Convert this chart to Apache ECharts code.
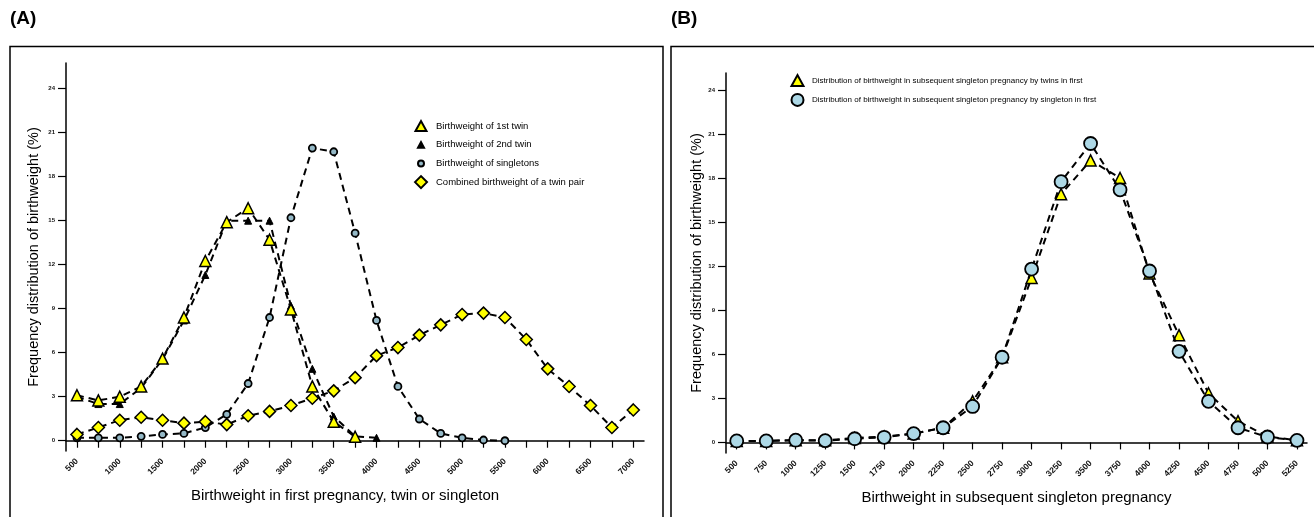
<!DOCTYPE html>
<html>
<head>
<meta charset="utf-8">
<script src="https://cdn.jsdelivr.net/npm/echarts@6/dist/echarts.min.js"></script>
<style>
html, body { margin: 0; padding: 0; background: #fff; }
#main { width: 1314px; height: 517px; }
</style>
</head>
<body>
<div id="main"></div>
<script>
// panel A : birthweight in first pregnancy
var firstTwinX   = [500,750,1000,1250,1500,1750,2000,2250,2500,2750,3000,3250,3500,3750];
var firstTwin    = [3.1,2.75,3.0,3.7,5.6,8.4,12.25,14.9,15.85,13.7,8.95,3.7,1.3,0.27];
var secondTwinX  = [500,750,1000,1250,1500,1750,2000,2250,2500,2750,3000,3250,3500,3750,4000];
var secondTwin   = [3.0,2.5,2.5,3.6,5.55,8.2,11.3,15.0,15.0,15.0,9.2,4.9,1.65,0.3,0.2];
var singletonX   = [500,750,1000,1250,1500,1750,2000,2250,2500,2750,3000,3250,3500,3750,4000,4250,4500,4750,5000,5250,5500];
var singleton    = [0.2,0.2,0.2,0.3,0.43,0.5,0.9,1.8,3.9,8.4,15.2,19.95,19.7,14.15,8.2,3.7,1.48,0.5,0.2,0.05,0.0];
var combinedX    = [500,750,1000,1250,1500,1750,2000,2250,2500,2750,3000,3250,3500,3750,4000,4250,4500,4750,5000,5250,5500,5750,6000,6250,6500,6750,7000];
var combined     = [0.43,0.9,1.4,1.6,1.4,1.2,1.3,1.1,1.7,2.0,2.4,2.9,3.4,4.3,5.8,6.35,7.2,7.9,8.6,8.7,8.4,6.9,4.9,3.7,2.4,0.9,2.1];

// panel B : birthweight in subsequent singleton pregnancy
var subsX        = [500,750,1000,1250,1500,1750,2000,2250,2500,2750,3000,3250,3500,3750,4000,4250,4500,4750,5000,5250];
var subsTwins    = [0.1,0.1,0.15,0.15,0.3,0.4,0.6,1.0,2.8,5.8,11.2,16.9,19.2,18.0,11.5,7.3,3.35,1.45,0.4,0.15];
var subsSingle   = [0.1,0.1,0.15,0.12,0.25,0.35,0.6,1.0,2.45,5.8,11.8,17.75,20.35,17.2,11.67,6.2,2.8,1.0,0.37,0.14];

// ticks
var xTicksA  = [500,750,1000,1250,1500,1750,2000,2250,2500,2750,3000,3250,3500,3750,4000,4250,4500,4750,5000,5250,5500,5750,6000,6250,6500,6750,7000];
var xLabelsA = [500,1000,1500,2000,2500,3000,3500,4000,4500,5000,5500,6000,6500,7000];
var xTicksB  = [500,750,1000,1250,1500,1750,2000,2250,2500,2750,3000,3250,3500,3750,4000,4250,4500,4750,5000,5250];
var yTicks   = [0,3,6,9,12,15,18,21,24];

var FONT = 'Liberation Sans, Arial, sans-serif';

function pairs(xs, ys) {
    var out = [];
    for (var i = 0; i < xs.length; i++) out.push([xs[i], ys[i]]);
    return out;
}

function plain(v) { return String(v); }

function xAxisOf(idx, min, max, ticks, labels, name, pad) {
    return {
        type: 'value', gridIndex: idx, min: min, max: max,
        name: name, nameLocation: 'middle', nameGap: 37,
        nameTextStyle: { fontSize: 15, color: '#000', fontFamily: FONT, padding: pad },
        axisLine: { show: true, lineStyle: { color: '#000', width: 1.5 } },
        axisTick: { show: true, length: 7, lineStyle: { color: '#000', width: 1.2 }, customValues: ticks },
        axisLabel: { rotate: 45, margin: 9, fontSize: 8.5, fontWeight: 'bold', color: '#111', fontFamily: FONT, customValues: labels, formatter: plain },
        splitLine: { show: false }
    };
}

function yAxisOf(idx, min, max, gap) {
    return {
        type: 'value', gridIndex: idx, min: min, max: max,
        name: 'Frequency distribution of birthweight (%)', nameLocation: 'middle', nameGap: gap,
        nameTextStyle: { fontSize: 14.5, color: '#000', fontFamily: FONT },
        axisLine: { show: true, lineStyle: { color: '#000', width: 1.5 } },
        axisTick: { show: true, length: 8, lineStyle: { color: '#000', width: 1.2 }, customValues: yTicks },
        axisLabel: { margin: 11, fontSize: 6, fontWeight: 'bold', color: '#111', fontFamily: FONT, customValues: yTicks, formatter: plain },
        splitLine: { show: false }
    };
}

var dash = { color: '#000', width: 2, type: [7, 5] };

function lineSeries(name, idx, data, symbol, size, fill, bw, z) {
    return {
        name: name, type: 'line', xAxisIndex: idx, yAxisIndex: idx,
        data: data, symbol: symbol, symbolSize: size, showAllSymbol: true,
        lineStyle: dash, z: z,
        itemStyle: { color: fill, borderColor: '#000', borderWidth: bw, opacity: 1 },
        emphasis: { disabled: true }, animation: false
    };
}

// legend icons padded inside a fixed box so that small marks stay small
var icBigTri   = 'path://M0,0M16,12M0.5,11L6,1L11.5,11Z';
var icSmallTri = 'path://M0,0M16,12M3,9L6,3.5L9,9Z';
var icSmallCir = 'path://M0,0M16,12M3,6A3,3,0,1,1,9,6A3,3,0,1,1,3,6Z';
var icDiamond  = 'path://M0,0M16,12M0,6L6,0L12,6L6,12Z';
var icTriB     = 'path://M0,0M16,13M0.5,12L6.5,1L12.5,12Z';
var icCirB     = 'path://M0,0M16,13M0.5,6.5A6,6,0,1,1,12.5,6.5A6,6,0,1,1,0.5,6.5Z';

var myChart = echarts.init(document.getElementById('main'));
var option = {
    backgroundColor: '#fff',
    animation: false,
    grid: [
        { left: 66, top: 63, width: 578, height: 388, outerBoundsMode: 'none' },
        { left: 726, top: 73, width: 581, height: 380, outerBoundsMode: 'none' }
    ],
    xAxis: [
        xAxisOf(0, 372, 7125, xTicksA, xLabelsA, 'Birthweight in first pregnancy, twin or singleton', [0, 20, 0, 0]),
        xAxisOf(1, 409, 5335, xTicksB, xTicksB, 'Birthweight in subsequent singleton pregnancy', 0)
    ],
    yAxis: [ yAxisOf(0, -0.7, 25.75, 25), yAxisOf(1, -0.72, 25.15, 22) ],
    legend: [
        {
            orient: 'vertical', left: 414, top: 119, padding: 0, itemGap: 4.7, itemWidth: 16, itemHeight: 12,
            textStyle: { fontSize: 9.5, lineHeight: 12, color: '#000', fontFamily: FONT },
            selectedMode: false,
            data: [
                { name: 'Birthweight of 1st twin', icon: icBigTri },
                { name: 'Birthweight of 2nd twin', icon: icSmallTri },
                { name: 'Birthweight of singletons', icon: icSmallCir },
                { name: 'Combined birthweight of a twin pair', icon: icDiamond }
            ]
        },
        {
            orient: 'vertical', left: 790, top: 73, padding: 0, itemGap: 4.4, itemWidth: 16, itemHeight: 13,
            textStyle: { fontSize: 8, lineHeight: 13, color: '#000', fontFamily: FONT },
            selectedMode: false,
            data: [
                { name: 'Distribution of birthweight in subsequent singleton pregnancy by twins in first', icon: icTriB },
                { name: 'Distribution of birthweight in subsequent singleton pregnancy by singleton in first', icon: icCirB }
            ]
        }
    ],
    series: [
        lineSeries('Birthweight of 1st twin', 0, pairs(firstTwinX, firstTwin), 'triangle', 11, '#ffff00', 1.5, 5),
        lineSeries('Birthweight of 2nd twin', 0, pairs(secondTwinX, secondTwin), 'triangle', 7, '#000', 1, 4),
        lineSeries('Birthweight of singletons', 0, pairs(singletonX, singleton), 'circle', 7, '#94b8c6', 1.8, 3),
        lineSeries('Combined birthweight of a twin pair', 0, pairs(combinedX, combined), 'diamond', 12, '#ffff00', 1.5, 6),
        lineSeries('Distribution of birthweight in subsequent singleton pregnancy by twins in first', 1, pairs(subsX, subsTwins), 'triangle', 11, '#ffff00', 1.5, 3),
        lineSeries('Distribution of birthweight in subsequent singleton pregnancy by singleton in first', 1, pairs(subsX, subsSingle), 'circle', 13, '#add8e6', 1.8, 4)
    ],
    graphic: [
        { type: 'rect', shape: { x: 10, y: 46.5, width: 653, height: 480 }, style: { fill: 'none', stroke: '#000', lineWidth: 1.5 }, silent: true },
        { type: 'rect', shape: { x: 671, y: 46.5, width: 650, height: 480 }, style: { fill: 'none', stroke: '#000', lineWidth: 1.5 }, silent: true },
        { type: 'text', left: 10, top: 9, style: { text: '(A)', font: 'bold 19px ' + FONT, fill: '#000' } },
        { type: 'text', left: 671, top: 9, style: { text: '(B)', font: 'bold 19px ' + FONT, fill: '#000' } }
    ]
};
myChart.setOption(option);
</script>
</body>
</html>
